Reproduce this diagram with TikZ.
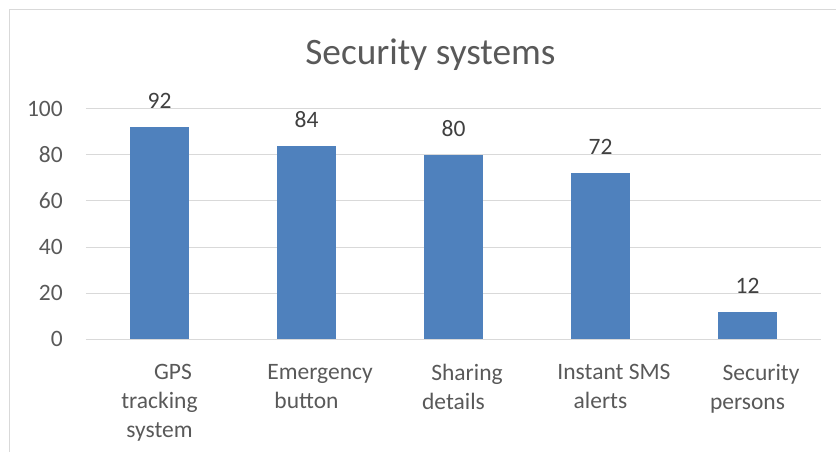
\documentclass[tikz,border=0pt]{standalone}
\usepackage{fontspec}
\setmainfont{Carlito}
\definecolor{barblue}{HTML}{4F81BD}
\definecolor{gridgray}{HTML}{D9D9D9}
\definecolor{labgray}{HTML}{595959}
\definecolor{valgray}{HTML}{404040}
\begin{document}
\begin{tikzpicture}[x=147pt,y=2.306pt,font=\fontsize{23.5}{29}\selectfont,text=labgray]
\useasboundingbox (-86pt,-112.7pt) rectangle (750pt,339.3pt);
% chart frame, cut off by the page on the right and at the bottom
\draw[gridgray,line width=1pt] (-76pt,-120pt) -- (-76pt,329.3pt) -- (760pt,329.3pt);
% title
\node[anchor=base,font=\fontsize{37.3}{44}\selectfont] (title) at (2.343,118.95) {Security systems};
% gridlines and value axis
\foreach \y in {0,20,...,100}
  {\draw[gridgray,line width=1pt] (0,\y) -- (5,\y);
   \node[anchor=east,inner sep=0pt] (tick\y) at ([xshift=-23pt]0,\y) {\y};}
% bars with their values on top
\foreach \v [count=\i] in {92,84,80,72,12}
  {\fill[barblue] (\i-0.7,0) rectangle (\i-0.3,\v);
   \node[text=valgray,yshift=26pt] (val\i) at (\i-0.5,\v) {\v};}
% category labels. Excel pushes the first line of each one to the right
\foreach \lab [count=\i] in {{\hspace*{27pt}GPS\\tracking\\system},
    {\hspace*{27pt}Emergency\\button}, {\hspace*{27pt}Sharing\\details},
    {\hspace*{27pt}Instant SMS\\alerts}, {\hspace*{27pt}Security\\persons}}
  {\node[anchor=north,align=center,inner sep=0pt] (cat\i) at ([yshift=-25pt]\i-0.5,0) {\lab};}
\end{tikzpicture}
\end{document}
